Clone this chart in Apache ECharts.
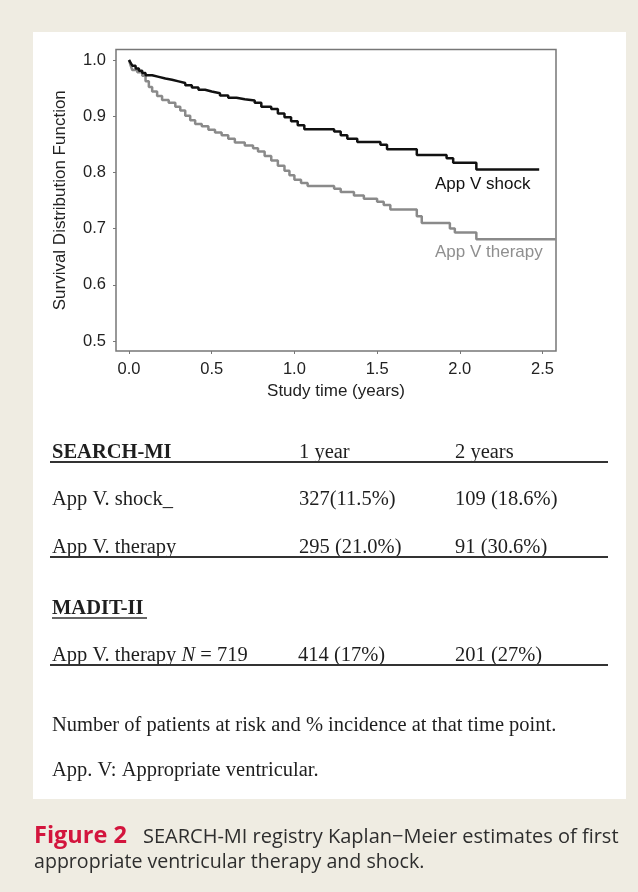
<!DOCTYPE html>
<html>
<head>
<meta charset="utf-8">
<script src="https://cdn.jsdelivr.net/npm/echarts@6/dist/echarts.min.js"></script>
<style>html,body{margin:0;padding:0;background:#efece2;}#c{width:638px;height:892px;}</style>
</head>
<body>
<div id="c"></div>
<script>
// ---- data ----
var xTicks = [0, 0.5, 1.0, 1.5, 2.0, 2.5];
var yTicks = [0.5, 0.6, 0.7, 0.8, 0.9, 1.0];
var shockTimes = [0,0.01,0.02,0.04,0.06,0.08,0.10,0.14,0.18,0.22,0.26,0.30,0.34,0.38,0.42,0.46,0.50,0.55,0.60,0.65,0.70,0.76,0.80,0.86,0.90,0.94,0.98,1.02,1.06,1.24,1.28,1.32,1.38,1.52,1.56,1.74,1.92,1.96,2.10,2.48];
var shockSurv  = [1.0,0.995,0.990,0.985,0.981,0.977,0.973,0.970,0.967,0.965,0.962,0.959,0.955,0.951,0.947,0.944,0.941,0.937,0.933,0.930,0.928,0.924,0.917,0.913,0.905,0.898,0.891,0.884,0.877,0.873,0.866,0.860,0.854,0.849,0.841,0.831,0.825,0.817,0.805,0.805];
var therapyTimes = [0,0.01,0.02,0.05,0.08,0.10,0.12,0.14,0.17,0.20,0.24,0.28,0.31,0.34,0.37,0.40,0.44,0.48,0.52,0.56,0.60,0.64,0.70,0.75,0.78,0.82,0.86,0.90,0.94,0.97,1.00,1.04,1.08,1.24,1.28,1.36,1.42,1.50,1.54,1.58,1.74,1.77,1.94,1.97,2.10,2.58];
var therapySurv  = [1.0,0.990,0.982,0.978,0.972,0.962,0.952,0.944,0.936,0.929,0.924,0.917,0.910,0.901,0.893,0.886,0.882,0.876,0.871,0.866,0.860,0.853,0.848,0.843,0.837,0.829,0.821,0.812,0.803,0.795,0.787,0.781,0.776,0.771,0.765,0.759,0.753,0.748,0.742,0.734,0.722,0.710,0.700,0.693,0.681,0.681];
var seriesNames = ['App V shock', 'App V therapy'];
var tableHeader = ['SEARCH-MI', '1 year', '2 years'];
var tableRow1 = ['App V. shock_', '327(11.5%)', '109 (18.6%)'];
var tableRow2 = ['App V. therapy', '295 (21.0%)', '91 (30.6%)'];
var madHeader = 'MADIT-II';
var madRow = ['App V. therapy ', 'N', ' = 719', '414 (17%)', '201 (27%)'];
var note1 = 'Number of patients at risk and % incidence at that time point.';
var note2 = 'App. V: Appropriate ventricular.';
var captionBold = 'Figure 2';
var captionLine1 = 'SEARCH-MI registry Kaplan\u2212Meier estimates of first';
var captionLine2 = 'appropriate ventricular therapy and shock.';

function pairs(t, s) { return t.map(function (v, i) { return [v, s[i]]; }); }

var chart = echarts.init(document.getElementById('c'), null, {renderer: 'canvas'});
var serif = '"Liberation Serif", "Times New Roman", serif';
var sans = '"Liberation Sans", Arial, sans-serif';
var capFont = '"Open Sans", Lato, sans-serif';
var tf = 20.5;
var ink = '#1e1e1e';
function t(x, y, text, opt) {
  opt = opt || {};
  return {type: 'text', x: x, y: y, silent: true, style: {
    text: text, fill: opt.fill || ink, font: (opt.weight || 'normal') + ' ' + (opt.size || tf) + 'px ' + (opt.family || serif),
    textAlign: opt.align || 'left', textVerticalAlign: 'middle'}};
}
function rule(x1, x2, y, w) {
  return {type: 'line', silent: true, shape: {x1: x1, y1: y, x2: x2, y2: y}, style: {stroke: '#333', lineWidth: w || 2}};
}
var col = [52, 299, 455];
var graphics = [
  {type: 'rect', silent: true, z: -10, shape: {x: 33, y: 32, width: 593, height: 767}, style: {fill: '#ffffff'}},
  t(435, 184, seriesNames[0], {family: sans, size: 17, fill: '#111'}),
  t(435, 252, seriesNames[1], {family: sans, size: 17, fill: '#8f8f8f'}),
  t(col[0], 453, tableHeader[0], {weight: 'bold'}),
  t(col[1], 453, tableHeader[1]),
  t(col[2], 453, tableHeader[2]),
  rule(50, 608, 462, 2.2),
  t(col[0], 500, tableRow1[0]), t(col[1], 500, tableRow1[1]), t(col[2], 500, tableRow1[2]),
  t(col[0], 548, tableRow2[0]), t(col[1], 548, tableRow2[1]), t(col[2], 548, tableRow2[2]),
  rule(50, 608, 557, 2.2),
  t(col[0], 609, madHeader, {weight: 'bold'}),
  rule(52, 147, 618, 1.6),
  {type: 'text', x: col[0], y: 656, silent: true, style: {
    text: '{a|' + madRow[0] + '}{i|' + madRow[1] + '}{a|' + madRow[2] + '}',
    textVerticalAlign: 'middle',
    rich: {a: {fontFamily: serif, fontSize: tf, fill: ink, color: ink},
           i: {fontFamily: serif, fontSize: tf, fontStyle: 'italic', fill: ink, color: ink}}}},
  t(298, 656, madRow[3]), t(col[2], 656, madRow[4]),
  rule(50, 608, 665, 2.2),
  t(col[0], 726, note1),
  t(col[0], 771, note2),
  t(34, 836, captionBold, {family: capFont, weight: 'bold', size: 23.5, fill: '#d3153d'}),
  t(143, 837, captionLine1, {family: capFont, size: 20, fill: '#2e2e2e'}),
  t(34, 862, captionLine2, {family: capFont, size: 19.6, fill: '#2e2e2e'})
];

function makeAxis(min, max, ticks, name, gap) {
  return {
    type: 'value', min: min, max: max,
    name: name, nameLocation: 'middle', nameGap: gap,
    nameTextStyle: {color: '#222', fontFamily: sans, fontSize: 17},
    axisLine: {show: false, onZero: false},
    splitLine: {show: false},
    axisTick: {show: true, inside: false, length: 3, customValues: ticks, lineStyle: {color: '#777', width: 1}},
    axisLabel: {color: '#222', fontFamily: sans, fontSize: 16.5, margin: 10, customValues: ticks,
                formatter: function (v) { return v.toFixed(1); }}
  };
}

chart.setOption({
  animation: false,
  backgroundColor: '#efece2',
  grid: {left: 116, top: 49.5, right: 82, bottom: 541, show: true, backgroundColor: '#fff', borderColor: '#777', borderWidth: 1.5},
  xAxis: makeAxis(-0.0786, 2.5816, xTicks, 'Study time (years)', 32),
  yAxis: makeAxis(0.4822, 1.0187, yTicks, 'Survival Distribution Function', 47),
  series: [
    {name: seriesNames[0], type: 'line', step: 'end', showSymbol: false, data: pairs(shockTimes, shockSurv), lineStyle: {color: '#111', width: 2.5}, z: 3},
    {name: seriesNames[1], type: 'line', step: 'end', showSymbol: false, data: pairs(therapyTimes, therapySurv), lineStyle: {color: '#8a8a8a', width: 2.5}, z: 2}
  ],
  graphic: graphics
});
</script>
</body>
</html>
